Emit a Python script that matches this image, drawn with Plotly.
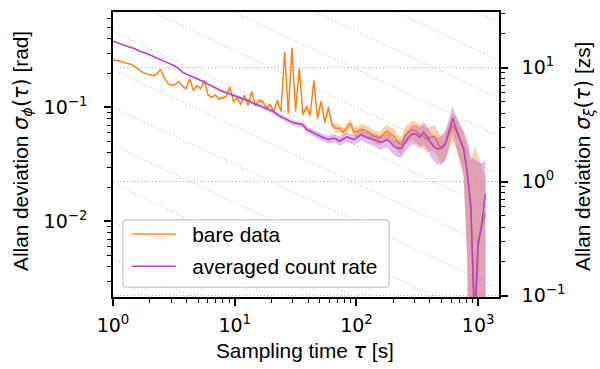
import plotly.graph_objects as go

# ---------------- data ----------------
tau = [1.000, 1.072, 1.148, 1.230, 1.318, 1.413, 1.514, 1.622, 1.738, 1.862,
       1.995, 2.138, 2.291, 2.455, 2.630, 2.818, 3.020, 3.236, 3.467, 3.715,
       3.981, 4.266, 4.571, 4.898, 5.248, 5.623, 6.026, 6.457, 6.918, 7.413,
       7.943, 8.511, 9.120, 9.772, 10.47, 11.22, 12.02, 12.88, 13.80, 14.79,
       15.85, 16.98, 18.20, 19.50, 20.89, 22.39, 23.99, 25.70, 27.54, 29.51,
       31.62, 33.88, 36.31, 38.90, 41.69, 44.67, 47.86, 51.29, 54.95, 58.88,
       63.10, 67.61, 72.44, 77.62, 83.18, 89.13, 95.50, 102.3, 109.6, 117.5,
       125.9, 134.9, 144.5, 154.9, 166.0, 177.8, 190.5, 204.2, 218.8, 234.4,
       251.2, 269.2, 288.4, 309.0, 331.1, 354.8, 380.2, 407.4, 436.5, 467.8,
       501.2, 537.0, 575.4, 616.6, 660.7, 707.9, 758.6, 812.8, 871.0, 933.3,
       1000.0, 1072.0, 1148.0]

bare_data = [0.2606, 0.257, 0.2544, 0.2468, 0.2419, 0.2385, 0.2278, 0.2166, 0.204, 0.198,
             0.194, 0.190, 0.196, 0.2166, 0.1826, 0.1635, 0.1555, 0.1586, 0.1686, 0.154,
             0.1455, 0.179, 0.1407, 0.1555, 0.145, 0.172, 0.1298, 0.1222, 0.1285, 0.1186,
             0.121, 0.1247, 0.1509, 0.1128, 0.120, 0.1062, 0.1273, 0.1041, 0.138, 0.1041,
             0.115, 0.1128, 0.098, 0.1056, 0.0923, 0.115, 0.0923, 0.308, 0.0887, 0.3335,
             0.0923, 0.219, 0.0869, 0.102, 0.0852, 0.172, 0.0802, 0.1128, 0.0740, 0.100,
             0.0697, 0.0656, 0.0656, 0.0605, 0.0656, 0.0725, 0.0605, 0.0618, 0.0643, 0.0630,
             0.0605, 0.0570, 0.0548, 0.0537, 0.0582, 0.0618, 0.0582, 0.0559, 0.0495, 0.0467,
             0.0570, 0.0605, 0.0643, 0.0618, 0.0582, 0.0559, 0.0526, 0.0548, 0.0559, 0.0486,
             0.0430, 0.0486, 0.0582, 0.0697, 0.0618, 0.0505, 0.0430, 0.0277, 0.0124, 0.0016,
             0.00679, 0.00917, 0.0119]

averaged_rate = [0.380, 0.3725, 0.361, 0.351, 0.344, 0.3335, 0.327, 0.314, 0.308, 0.299,
                 0.290, 0.281, 0.273, 0.265, 0.257, 0.249, 0.2395, 0.230, 0.219, 0.204,
                 0.196, 0.190, 0.186, 0.179, 0.172, 0.167, 0.160, 0.154, 0.149, 0.1435,
                 0.138, 0.135, 0.131, 0.1285, 0.1235, 0.120, 0.1174, 0.115, 0.1106, 0.1062,
                 0.1041, 0.101, 0.098, 0.0951, 0.0914, 0.0869, 0.0826, 0.0802, 0.0770, 0.0740,
                 0.0725, 0.0711, 0.0704, 0.0643, 0.0618, 0.0593, 0.0576, 0.0553, 0.0537, 0.0521,
                 0.0537, 0.0531, 0.0505, 0.0526, 0.0553, 0.0537, 0.0521, 0.0548, 0.0576, 0.0553,
                 0.0537, 0.0526, 0.0516, 0.0495, 0.0500, 0.0521, 0.0495, 0.0452, 0.0439, 0.0439,
                 0.0495, 0.0548, 0.0588, 0.0582, 0.0548, 0.0605, 0.0559, 0.0490, 0.0448, 0.0430,
                 0.0448, 0.0476, 0.0618, 0.0802, 0.0643, 0.0526, 0.0439, 0.0266, 0.0137, 0.0012,
                 0.00614, 0.00974, 0.0174]

rel_err = [0.008, 0.008, 0.009, 0.009, 0.010, 0.010, 0.010, 0.011, 0.011, 0.012,
           0.012, 0.013, 0.013, 0.014, 0.014, 0.015, 0.015, 0.016, 0.017, 0.017,
           0.018, 0.019, 0.020, 0.020, 0.021, 0.022, 0.023, 0.024, 0.025, 0.026,
           0.027, 0.028, 0.029, 0.030, 0.031, 0.032, 0.033, 0.034, 0.035, 0.036,
           0.037, 0.039, 0.040, 0.042, 0.043, 0.045, 0.047, 0.049, 0.051, 0.053,
           0.055, 0.057, 0.059, 0.062, 0.064, 0.067, 0.070, 0.072, 0.075, 0.078,
           0.081, 0.084, 0.088, 0.091, 0.095, 0.099, 0.103, 0.107, 0.111, 0.116,
           0.120, 0.125, 0.130, 0.135, 0.140, 0.146, 0.152, 0.158, 0.165, 0.172,
           0.180, 0.188, 0.196, 0.205, 0.214, 0.224, 0.234, 0.245, 0.256, 0.268,
           0.280, 0.280, 0.275, 0.270, 0.300, 0.350, 0.420, 0.830, 1.700, 28.0,
           4.500, 2.300, 1.000]

# tau^(-1/2) guide lines (prefactors)
guide_levels = [0.00464, 0.01, 0.0215, 0.0464, 0.1, 0.215, 0.464, 1.0, 2.154, 4.642, 10.0, 21.54]
guide_tau = [1.0, 1500.0]

x_tickvals = [1, 10, 100, 1000]
x_ticktext = ["10<sup>0</sup>", "10<sup>1</sup>", "10<sup>2</sup>", "10<sup>3</sup>"]
yl_tickvals = [0.01, 0.1]
yl_ticktext = ["10<sup>\u22122</sup>", "10<sup>\u22121</sup>"]
yr_tickvals = [0.1, 1, 10]
yr_ticktext = ["10<sup>\u22121</sup>", "10<sup>0</sup>", "10<sup>1</sup>"]

# ---------------- styling ----------------
FONT = "Liberation Sans"
MATH = "DejaVu Sans"
TXT = 20.8
ORANGE = "#ff7f0e"
PURPLE = "#ad45c3"
ORANGE_FILL = "rgba(255,127,14,0.35)"
PURPLE_FILL = "rgba(173,69,195,0.35)"
GUIDE = "#b8b8b8"

X_RANGE = [0.0, 3.171]
YL_RANGE = [-2.663, -0.163]
YR_RANGE = [-1.012, 1.488]


def minor_vals(decades):
    out = []
    for d in decades:
        for m in range(2, 10):
            out.append(m * 10.0 ** d)
    return out


def math(s):
    return f"<span style='font-family:{MATH}'>{s}</span>"


fig = go.Figure()

for c in guide_levels:
    fig.add_trace(go.Scatter(
        x=guide_tau, y=[c / t ** 0.5 for t in guide_tau], mode="lines",
        line=dict(color=GUIDE, width=1, dash="1px,2.5px"),
        showlegend=False, hoverinfo="skip"))


def band(vals):
    up = [v * (1 + e) for v, e in zip(vals, rel_err)]
    lo = [max(v * (1 - e), 1e-5) for v, e in zip(vals, rel_err)]
    return up + lo[::-1]


fig.add_trace(go.Scatter(x=tau + tau[::-1], y=band(bare_data), fill="toself",
                         fillcolor=ORANGE_FILL, line=dict(width=0), mode="lines",
                         showlegend=False, hoverinfo="skip"))
fig.add_trace(go.Scatter(x=tau, y=bare_data, mode="lines", name="\u00a0\u00a0bare data",
                         line=dict(color=ORANGE, width=1.4), legendgroup="a"))
fig.add_trace(go.Scatter(x=tau + tau[::-1], y=band(averaged_rate), fill="toself",
                         fillcolor=PURPLE_FILL, line=dict(width=0), mode="lines",
                         showlegend=False, hoverinfo="skip"))
fig.add_trace(go.Scatter(x=tau, y=averaged_rate, mode="lines",
                         name="\u00a0\u00a0averaged count rate",
                         line=dict(color=PURPLE, width=1.5), legendgroup="b"))
# anchor trace for the right axis
fig.add_trace(go.Scatter(x=[10], y=[1], yaxis="y2", mode="markers",
                         marker=dict(opacity=0), showlegend=False, hoverinfo="skip"))

axis_common = dict(type="log", showline=True, linecolor="black", linewidth=1.6,
                   ticks="outside", ticklen=7, tickwidth=1.5, tickcolor="black",
                   tickfont=dict(family=MATH, size=19, color="black"),
                   zeroline=False, tickmode="array")
minor_common = dict(tickmode="array", ticks="outside", ticklen=4, tickwidth=1.1,
                    tickcolor="black", showgrid=False)

fig.update_layout(
    width=600, height=369,
    margin=dict(l=113, r=101, t=10, b=72),
    paper_bgcolor="white", plot_bgcolor="white",
    font=dict(family=FONT, size=TXT, color="black"),
    xaxis=dict(range=X_RANGE, tickvals=x_tickvals, ticktext=x_ticktext,
               mirror=True, showgrid=False, ticklabelstandoff=3,
               minor=dict(tickvals=minor_vals([0, 1, 2]), **minor_common),
               **axis_common),
    yaxis=dict(range=YL_RANGE, tickvals=yl_tickvals, ticktext=yl_ticktext,
               showgrid=False, ticklabelstandoff=13,
               minor=dict(tickvals=minor_vals([-3, -2, -1]), **minor_common),
               **axis_common),
    yaxis2=dict(range=YR_RANGE, tickvals=yr_tickvals, ticktext=yr_ticktext,
                overlaying="y", side="right", ticklabelstandoff=10,
                showgrid=True, gridcolor=GUIDE, gridwidth=1, griddash="1px,2.5px",
                minor=dict(tickvals=minor_vals([-1, 0, 1]), **minor_common),
                **axis_common),
    legend=dict(x=0.0355, y=0.291, xanchor="left", yanchor="top",
                bgcolor="rgba(0,0,0,0)", borderwidth=0, itemwidth=44,
                tracegroupgap=2, font=dict(family=FONT, size=TXT, color="black")),
    showlegend=True,
)

# rounded legend frame (matplotlib style)
PW, PH = 386.0, 287.0
lx0, lx1 = (122.7 - 113) / PW, (389.3 - 113) / PW
ly0, ly1 = (297 - 287.3) / PH, (297 - 219.3) / PH
rx, ry = 5 / PW, 5 / PH
path = (f"M{lx0+rx},{ly0} L{lx1-rx},{ly0} Q{lx1},{ly0} {lx1},{ly0+ry} "
        f"L{lx1},{ly1-ry} Q{lx1},{ly1} {lx1-rx},{ly1} L{lx0+rx},{ly1} "
        f"Q{lx0},{ly1} {lx0},{ly1-ry} L{lx0},{ly0+ry} Q{lx0},{ly0} {lx0+rx},{ly0} Z")
fig.add_shape(type="path", path=path, xref="paper", yref="paper", layer="above",
              fillcolor="rgba(255,255,255,0.8)", line=dict(color="#d0d0d0", width=1.5))

fig.add_annotation(x=0.497, y=-0.19, xref="paper", yref="paper",
                   text="Sampling time " + math("<i>\u03c4</i>") + " [s]", showarrow=False,
                   xanchor="center", yanchor="middle", font=dict(size=TXT))
fig.add_annotation(x=-0.236, y=0.512, xref="paper", yref="paper", textangle=-90,
                   text="Allan deviation " + math("<i>\u03c3</i><sub><i>\u03d5</i></sub>(<i>\u03c4</i>)") + " [rad]",
                   showarrow=False, xanchor="center", yanchor="middle", font=dict(size=TXT))
fig.add_annotation(x=1.2202, y=0.495, xref="paper", yref="paper", textangle=-90,
                   text="Allan deviation " + math("<i>\u03c3</i><sub><i>\u03be</i></sub>(<i>\u03c4</i>)") + " [zs]",
                   showarrow=False, xanchor="center", yanchor="middle", font=dict(size=TXT))

fig.write_html("out.html")
